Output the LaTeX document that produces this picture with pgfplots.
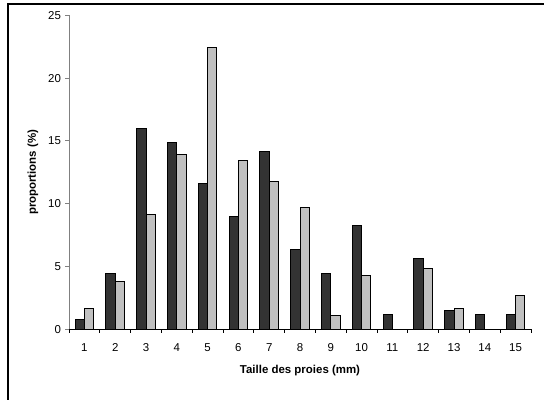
\documentclass[border=0pt]{standalone}
\usepackage{pgfplots}
\pgfplotsset{compat=1.18}
\usepackage{fontspec}
\setmainfont{Liberation Sans}
\definecolor{barDark}{HTML}{333333}
\definecolor{barLight}{HTML}{C0C0C0}
\definecolor{yAxisGray}{HTML}{808080}

\begin{document}
\begin{tikzpicture}
\useasboundingbox (0,0) rectangle (544bp,400bp);
% outer chart frame (only left and top edges show in the picture)
\draw[black, line width=1.3bp] (8bp,-5bp) -- (8bp,396bp) -- (560bp,396bp);

\begin{axis}[
    at={(69bp,70.7bp)}, anchor=south west,
    scale only axis,
    width=462bp, height=314bp,
    xmin=0.5, xmax=15.5,
    ymin=0, ymax=25,
    axis x line*=bottom,
    axis y line*=left,
    x axis line style={black, line width=0.9bp, -},
    y axis line style={yAxisGray, line width=0.9bp, -},
    xtick={1,...,15},
    major x tick style={draw=none},
    minor xtick={0.5,1.5,...,15.5},
    minor x tick style={black, line width=0.8bp},
    minor tick length=3.5bp,
    ytick={0,5,...,25},
    y tick style={yAxisGray, line width=0.8bp},
    major tick length=3.5bp,
    tick align=outside,
    xtick pos=bottom, ytick pos=left,
    tick label style={font=\fontsize{11.5}{13}\selectfont},
    label style={font=\fontsize{11.5}{13}\selectfont\bfseries},
    /pgf/number format/assume math mode=true,
    xticklabel style={yshift=-7bp},
    yticklabel style={xshift=-1bp},
    xlabel={Taille des proies (mm)},
    xlabel style={at={(axis description cs:0.5,0)}, anchor=center, yshift=-41.7bp},
    ylabel={proportions (\%)},
    ylabel style={at={(axis description cs:0,0.5)}, anchor=center, rotate=0, yshift=36bp},
    ybar,
    bar width=9.3bp,
]
\addplot[draw=black, line width=1bp, fill=barDark, bar shift=-4.65bp] coordinates {
(1,0.8) (2,4.48) (3,16.0) (4,14.89) (5,11.59) (6,9.0) (7,14.14) (8,6.34)
(9,4.48) (10,8.25) (11,1.14) (12,5.6) (13,1.51) (14,1.14) (15,1.14)
};
\addplot[draw=black, line width=1bp, fill=barLight, bar shift=4.65bp] coordinates {
(1,1.64) (2,3.79) (3,9.12) (4,13.93) (5,22.45) (6,13.4) (7,11.8) (8,9.68)
(9,1.08) (10,4.3) (12,4.83) (13,1.64) (15,2.68)
};
\end{axis}
\end{tikzpicture}
\end{document}
